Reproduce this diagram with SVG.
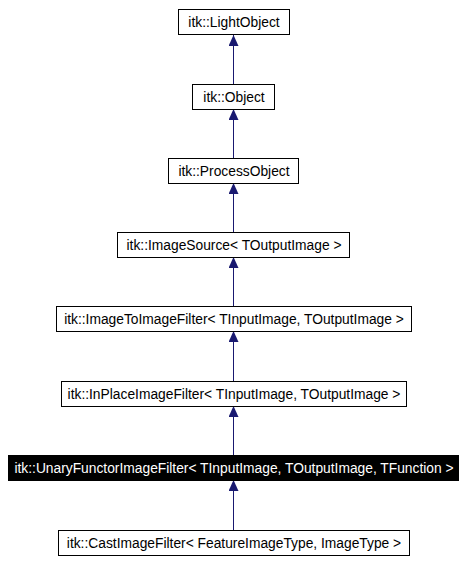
<svg xmlns="http://www.w3.org/2000/svg" width="466" height="564" viewBox="0 0 466 564">
<style>
.n rect{fill:#fff;stroke:#000;stroke-width:1}
.n text{font-family:"Liberation Sans",Arial,sans-serif;font-size:13.8px;text-anchor:middle;fill:#000}
.n.hl rect{fill:#000}
.n.hl text{fill:#fff}
.e line{stroke:#191970;stroke-width:1}
</style>
<defs>
<marker id="a" markerWidth="11" markerHeight="10" refX="11" refY="5" orient="auto" markerUnits="userSpaceOnUse" viewBox="0 0 11 10">
<path d="M0,0 L11,5 L0,10 Z" fill="#191970"/>
</marker>
</defs>
<rect width="466" height="564" fill="#fff"/>
<g id="connectors" class="e">
<line x1="233.5" y1="84" x2="233.5" y2="35" marker-end="url(#a)"/>
<line x1="233.5" y1="158" x2="233.5" y2="109" marker-end="url(#a)"/>
<line x1="233.5" y1="232" x2="233.5" y2="183" marker-end="url(#a)"/>
<line x1="233.5" y1="306" x2="233.5" y2="257" marker-end="url(#a)"/>
<line x1="233.5" y1="381" x2="233.5" y2="331" marker-end="url(#a)"/>
<line x1="233.5" y1="455" x2="233.5" y2="406" marker-end="url(#a)"/>
<line x1="233.5" y1="530" x2="233.5" y2="480" marker-end="url(#a)"/>
</g>
<g id="n1" class="n"><rect x="178.5" y="9.5" width="111" height="25"/><text x="234" y="26.5">itk::LightObject</text></g>
<g id="n2" class="n"><rect x="192.5" y="84.5" width="82" height="25"/><text x="234" y="101.5">itk::Object</text></g>
<g id="n3" class="n"><rect x="168.5" y="158.5" width="130" height="25"/><text x="234" y="175.5">itk::ProcessObject</text></g>
<g id="n4" class="n"><rect x="117.5" y="232.5" width="232" height="25"/><text x="234" y="249.5">itk::ImageSource&lt; TOutputImage &gt;</text></g>
<g id="n5" class="n"><rect x="56.5" y="306.5" width="355" height="25"/><text x="234" y="323.5">itk::ImageToImageFilter&lt; TInputImage, TOutputImage &gt;</text></g>
<g id="n6" class="n"><rect x="61.5" y="381.5" width="345" height="25"/><text x="234" y="398.5">itk::InPlaceImageFilter&lt; TInputImage, TOutputImage &gt;</text></g>
<g id="n7" class="n hl"><rect x="8.5" y="455.5" width="450" height="25"/><text x="234" y="472.5">itk::UnaryFunctorImageFilter&lt; TInputImage, TOutputImage, TFunction &gt;</text></g>
<g id="n8" class="n"><rect x="58.5" y="530.5" width="351" height="25"/><text x="234" y="547.5">itk::CastImageFilter&lt; FeatureImageType, ImageType &gt;</text></g>
</svg>
